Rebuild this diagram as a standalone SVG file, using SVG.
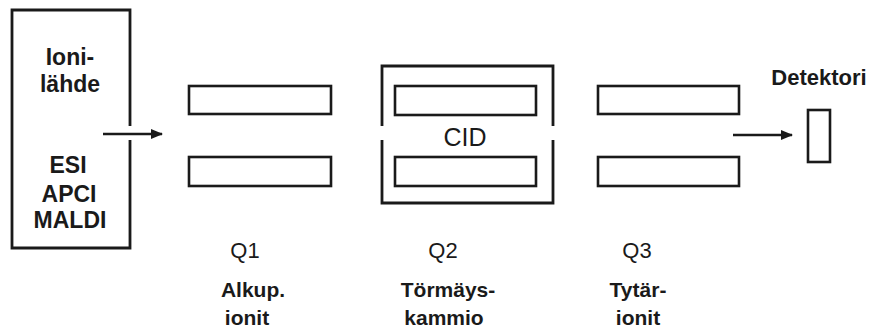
<svg xmlns="http://www.w3.org/2000/svg" width="872" height="330" viewBox="0 0 872 330">
<defs>
<style>
.box{fill:none;stroke:#1a1a1a;stroke-width:2.6}
.frame{fill:none;stroke:#1a1a1a;stroke-width:2.8}
.line{fill:none;stroke:#1a1a1a;stroke-width:2.6}
.b{font-family:"Liberation Sans",Arial,sans-serif;font-weight:bold;font-size:21px;fill:#1a1a1a;text-anchor:middle}
.n{font-family:"Liberation Sans",Arial,sans-serif;font-size:22px;fill:#1a1a1a;text-anchor:middle}
.big{font-size:23px}
.cid{font-size:25px}
</style>
<marker id="ah" markerWidth="12" markerHeight="10" refX="11" refY="5" orient="auto" markerUnits="userSpaceOnUse">
<path d="M0,0 L12,5 L0,10 Z" fill="#1a1a1a"/>
</marker>
</defs>
<rect width="872" height="330" fill="#ffffff"/>

<g id="ionilahde">
<path class="frame" d="M130,126 V10 H12 V248 H130 V140"/>
<text class="b big" x="70" y="65">Ioni-</text>
<text class="b big" x="70" y="92">lähde</text>
<text class="b big" x="68" y="173">ESI</text>
<text class="b big" x="69" y="202">APCI</text>
<text class="b big" x="70" y="228">MALDI</text>
</g>

<g id="q1">
<rect class="box" x="189" y="86" width="142" height="28"/>
<rect class="box" x="189" y="157" width="142" height="29"/>
<text class="n" x="245" y="258">Q1</text>
<text class="b" x="253" y="297">Alkup.</text>
<text class="b" x="247" y="325">ionit</text>
</g>

<g id="q2">
<path class="frame" d="M382,126 V66 H553 V126 M553,140 V203 H382 V140"/>
<rect class="box" x="395" y="86" width="141" height="29"/>
<rect class="box" x="395" y="157" width="141" height="29"/>
<text class="n cid" x="465" y="146">CID</text>
<text class="n" x="443" y="258">Q2</text>
<text class="b" x="448" y="297">Törmäys-</text>
<text class="b" x="444" y="325">kammio</text>
</g>

<g id="q3">
<rect class="box" x="598" y="86" width="141" height="28"/>
<rect class="box" x="598" y="157" width="141" height="29"/>
<text class="n" x="637" y="258">Q3</text>
<text class="b" x="638" y="297">Tytär-</text>
<text class="b" x="638" y="325">ionit</text>
</g>

<g id="detektori">
<rect class="box" x="808" y="110" width="22" height="52"/>
<text class="b" x="819" y="85" style="font-size:22px">Detektori</text>
</g>

<g id="connectors">
<line class="line" x1="103" y1="134" x2="162" y2="134" marker-end="url(#ah)"/>
<line class="line" x1="733" y1="135" x2="792" y2="135" marker-end="url(#ah)"/>
</g>
</svg>
